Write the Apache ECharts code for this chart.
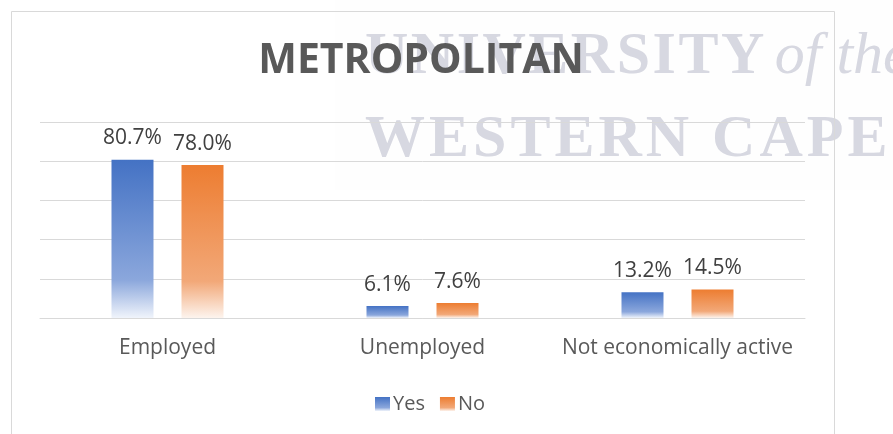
<!DOCTYPE html>
<html>
<head>
<meta charset="utf-8">
<script src="https://cdn.jsdelivr.net/npm/echarts@6/dist/echarts.min.js"></script>
<style>
  html, body { margin: 0; padding: 0; background: #ffffff; }
  #chart { width: 893px; height: 434px; }
</style>
</head>
<body>
<div id="chart"></div>
<script>
// Employment status, metropolitan respondents (percent)
const categories = ['Employed', 'Unemployed', 'Not economically active'];
const seriesNames = ['Yes', 'No'];
const yesValues = [80.7, 6.1, 13.2];
const noValues = [78.0, 7.6, 14.5];
const chartTitle = 'METROPOLITAN';
const watermarkTop = 'UNIVERSITY';
const watermarkItalic = 'of the';
const watermarkBottom = 'WESTERN CAPE';

const chart = echarts.init(document.getElementById('chart'), null, { renderer: 'canvas' });

// vertical fade: solid at the top, washing out towards the axis
function fade(top, mid, bottom) {
  return new echarts.graphic.LinearGradient(0, 0, 0, 1, [
    { offset: 0, color: top },
    { offset: 0.76, color: mid },
    { offset: 1, color: bottom }
  ]);
}
const blueFill = fade('#4472c4', '#8ba7dc', '#f0f4fb');
const orangeFill = fade('#ed7d31', '#f2a878', '#fdf4ee');

// letter-spaced serif wordmark laid out glyph by glyph
const measure = document.createElement('canvas').getContext('2d');
const markColor = '#d7d8e1';
function spacedWord(text, font, x, y, spacing) {
  measure.font = font;
  const els = [];
  for (const ch of text) {
    if (ch !== ' ') {
      els.push({
        type: 'text', x: x, y: y, z: -10, silent: true,
        style: { text: ch, font: font, fill: markColor, textVerticalAlign: 'middle' }
      });
    }
    x += measure.measureText(ch).width + spacing;
  }
  return { els: els, end: x };
}
const serif = "bold 60px 'Liberation Serif'";
const line1 = spacedWord(watermarkTop, serif, 365, 57, 2.5);
const line1b = spacedWord(watermarkItalic, "italic 60px 'Liberation Serif'", line1.end + 8, 57, 0);
const line2 = spacedWord(watermarkBottom, serif, 365, 140, 4);

const graphics = [
  {
    type: 'rect', z: -20, silent: true,
    shape: { x: 335, y: 0, width: 558, height: 190 },
    style: { fill: 'rgba(230,230,236,0.06)' }
  },
  {
    type: 'rect', z: -5, silent: true,
    shape: { x: 11.5, y: 11.5, width: 823, height: 440 },
    style: { fill: null, stroke: '#d9d9d9', lineWidth: 1 }
  },
  {
    type: 'text', z: 10, silent: true,
    x: 421, y: 61,
    style: {
      text: chartTitle,
      font: "bold 41px 'Open Sans'",
      fill: '#595959',
      textAlign: 'center',
      textVerticalAlign: 'middle'
    }
  }
].concat(line1.els, line1b.els, line2.els);

const labelStyle = {
  show: true,
  position: 'top',
  distance: 11,
  formatter: p => p.value.toFixed(1) + '%',
  fontFamily: 'Open Sans',
  fontSize: 21,
  color: '#404040'
};

chart.setOption({
  animation: false,
  backgroundColor: '#ffffff',
  graphic: graphics,
  grid: { left: 40, right: 88, top: 122, bottom: 116 },
  legend: {
    data: seriesNames,
    left: 370,
    top: 389,
    icon: 'rect',
    itemWidth: 15,
    itemHeight: 14,
    itemGap: 15,
    textStyle: { fontFamily: 'Open Sans', fontSize: 20, color: '#595959', padding: [0, 0, 0, -2] }
  },
  xAxis: {
    type: 'category',
    data: categories,
    axisLine: { show: true, lineStyle: { color: '#d9d9d9', width: 1 } },
    axisTick: { show: false },
    axisLabel: {
      interval: 0,
      margin: 20,
      fontFamily: 'Open Sans',
      fontSize: 21,
      color: '#595959'
    }
  },
  yAxis: {
    type: 'value',
    min: 0,
    max: 100,
    interval: 20,
    axisLine: { show: false },
    axisTick: { show: false },
    axisLabel: { show: false },
    splitLine: { lineStyle: { color: '#d9d9d9', width: 1 } }
  },
  series: [
    {
      name: seriesNames[0],
      type: 'bar',
      data: yesValues,
      barWidth: 42,
      barGap: '66.7%',
      itemStyle: { color: blueFill },
      label: labelStyle
    },
    {
      name: seriesNames[1],
      type: 'bar',
      data: noValues,
      barWidth: 42,
      barGap: '66.7%',
      itemStyle: { color: orangeFill },
      label: labelStyle
    }
  ]
});
</script>
</body>
</html>
